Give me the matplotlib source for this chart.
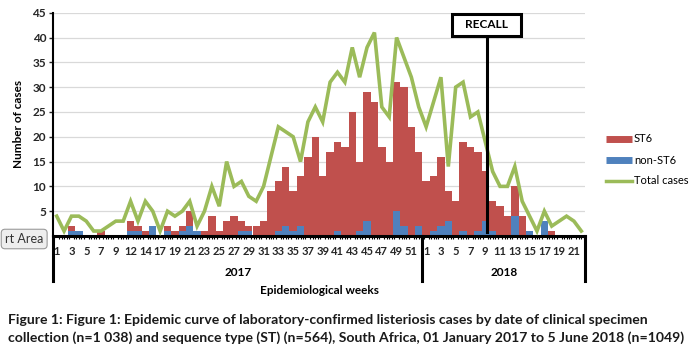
import matplotlib
matplotlib.use("Agg")
import matplotlib.pyplot as plt
from matplotlib.lines import Line2D
from matplotlib.patches import Rectangle
from matplotlib.ticker import FixedLocator, MultipleLocator
import numpy as np

plt.rcParams['font.family'] = ['Lato', 'DejaVu Sans']

# epidemiological weeks shown on the axis
weeks_2017 = [1, 2, 3, 4, 5, 6, 7, 8, 9, 11, 12, 13, 14, 16, 17, 18, 19, 20, 21, 22,
              23, 24, 25, 26, 27, 28, 29, 30, 31, 32, 33, 34, 35, 36, 37, 38, 39, 40,
              41, 42, 43, 44, 45, 46, 47, 48, 49, 50, 51, 52]
weeks_2018 = [1, 2, 3, 4, 5, 6, 7, 8, 9, 10, 11, 12, 13, 14, 15, 16, 17, 18, 19, 20, 21, 22]

non_st6 = [0, 0, 1, 1, 0, 0, 0, 0, 0, 0,
           1, 1, 0, 2, 0, 1, 0, 1, 2, 1,
           0, 0, 0, 0, 0, 1, 1, 0, 0, 0,
           1, 2, 1, 2, 0, 0, 0, 0, 1, 0,
           0, 1, 3, 0, 0, 0, 5, 2, 0, 2,
           0, 1, 2, 3, 0, 1, 0, 1, 3, 1,
           0, 0, 4, 0, 1, 0, 3, 0, 0, 0,
           0, 0]
st6 = [0, 0, 1, 0, 0, 0, 1, 0, 0, 0,
       2, 1, 1, 0, 0, 1, 1, 1, 3, 0,
       1, 4, 1, 3, 4, 2, 1, 2, 3, 9,
       10, 12, 8, 10, 16, 20, 12, 17, 18, 18,
       25, 14, 26, 27, 18, 15, 26, 28, 22, 15,
       11, 11, 14, 6, 7, 18, 18, 16, 10, 6,
       6, 4, 6, 4, 0, 0, 0, 1, 0, 0,
       0, 0]
total_cases = [4, 1, 4, 4, 3, 1, 1, 2, 3, 3,
               7, 3, 7, 5, 1, 5, 4, 5, 7, 2,
               5, 10, 6, 15, 10, 11, 8, 7, 10, 16,
               22, 21, 20, 15, 23, 26, 23, 31, 33, 31,
               38, 32, 38, 41, 26, 24, 40, 36, 32, 26,
               22, 27, 32, 14, 30, 31, 24, 25, 19, 13,
               10, 10, 14, 7, 4, 1, 5, 2, 3, 4,
               3, 1]

recall_week_2018 = 9

red = '#C0504D'
blue = '#4F81BD'
green = '#9BBB59'

labels = [str(w) for w in weeks_2017] + [str(w) for w in weeks_2018]
x = np.arange(len(labels))
n17 = len(weeks_2017)

fig = plt.figure(figsize=(6.93, 3.52), dpi=100)
ax = fig.add_axes([53 / 693, 1 - 236 / 352, 532 / 693, 223.3 / 352])

ax.bar(x, non_st6, width=1.0, color=blue, edgecolor='none', zorder=2)
ax.bar(x, st6, width=1.0, bottom=non_st6, color=red, edgecolor='none', zorder=2)
ax.plot(x, total_cases, color=green, lw=2.6, solid_joinstyle='miter', zorder=3)

ax.set_xlim(-0.5, len(labels) - 0.5)
ax.set_ylim(0, 45)
ax.set_yticks(range(5, 50, 5))
ax.yaxis.grid(True, color='#D9D9D9', lw=0.9)
ax.set_axisbelow(True)
for t in ax.get_yticklabels():
    t.set_fontweight('bold')
ax.tick_params(axis='y', length=3, width=1, labelsize=8.5, colors='#262626', pad=2)

ax.xaxis.set_major_locator(FixedLocator(x[::2]))
ax.set_xticklabels(labels[::2], fontsize=8, fontweight='bold', color='#262626')
ax.xaxis.set_minor_locator(MultipleLocator(1 / 3))
ax.tick_params(axis='x', which='major', length=0, pad=7)
ax.tick_params(axis='x', which='minor', length=2.5, width=0.8, color='black')

for s in ['top', 'right']:
    ax.spines[s].set_visible(False)
ax.spines['left'].set_linewidth(1.5)
ax.spines['bottom'].set_linewidth(2.2)

ax.set_ylabel('Number of cases', fontsize=8.5, fontweight='bold', labelpad=6)

# year separators and labels
tr = ax.get_xaxis_transform()
for xs in [-0.5, n17 - 0.5, len(labels) - 0.5]:
    ax.plot([xs, xs], [0, -0.2], transform=tr, color='black', lw=2.2, clip_on=False)
ax.text((n17 - 1) / 2, -0.165, '2017', transform=tr, ha='center', va='center',
        fontsize=8.5, fontweight='bold')
ax.text(n17 + (len(weeks_2018) - 1) / 2, -0.165, '2018', transform=tr, ha='center',
        va='center', fontsize=8.5, fontweight='bold')

# recall marker
rx = n17 + weeks_2018.index(recall_week_2018) + 0.2
ax.plot([rx, rx], [0.8, 40.4], color='black', lw=2.2, zorder=4)
ax.add_patch(Rectangle((rx - 4.7, 40.4), 9.4, 4.3, fc='white', ec='black', lw=2.2,
                       zorder=5, clip_on=False))
ax.text(rx, 42.55, 'RECALL', ha='center', va='center', fontsize=8.5, fontweight='bold',
        zorder=6)

handles = [Line2D([], [], color=red, lw=5, solid_capstyle='butt'),
           Line2D([], [], color=blue, lw=5, solid_capstyle='butt'),
           Line2D([], [], color=green, lw=2.5)]
fig.legend(handles, ['ST6', 'non-ST6', 'Total cases'], loc='center left',
           bbox_to_anchor=(596 / 693, 1 - 160 / 352), frameon=False, fontsize=8,
           handlelength=2.3, handletextpad=0.2, labelspacing=0.9)

fig.text(319 / 693, 1 - 291 / 352, 'Epidemiological weeks', ha='center', va='center',
         fontsize=8.5, fontweight='bold')
fig.text(8 / 693, 1 - 320 / 352,
         'Figure 1: Figure 1: Epidemic curve of laboratory-confirmed listeriosis cases by date of clinical specimen',
         ha='left', va='center', fontsize=10.1, fontweight='bold', color='#1a1a1a')
fig.text(8 / 693, 1 - 338 / 352,
         'collection (n=1 038) and sequence type (ST) (n=564), South Africa, 01 January 2017 to 5 June 2018 (n=1049)',
         ha='left', va='center', fontsize=10.1, fontweight='bold', color='#1a1a1a')

# leftover Excel tooltip in the screenshot
fig.text(5 / 693, 1 - 239 / 352, 'rt Area', ha='left', va='center', fontsize=9,
         color='#333333',
         bbox=dict(boxstyle='round,pad=0.3', fc='#EEEEEE', ec='#9A9A9A', lw=0.8))

fig.savefig('out.png', dpi=100)
